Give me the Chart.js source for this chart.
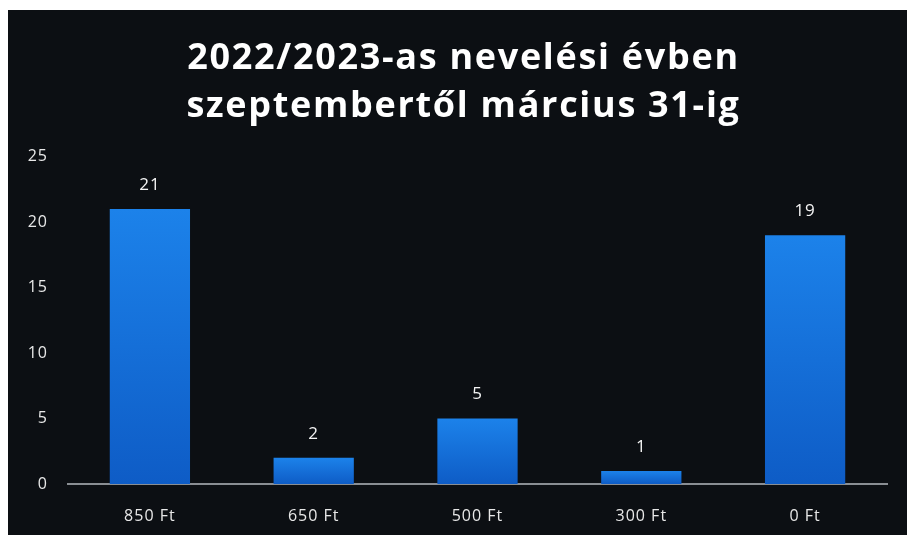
<!DOCTYPE html>
<html>
<head>
<meta charset="utf-8">
<script src="https://cdn.jsdelivr.net/npm/chart.js@4/dist/chart.umd.min.js"></script>
<style>
  html, body { margin: 0; padding: 0; background: #ffffff; width: 907px; height: 535px; overflow: hidden; }
  #wrap { position: absolute; left: 8px; top: 10px; width: 899px; height: 525px; background: #0c0f13; }
  canvas { display: block; }
</style>
</head>
<body>
<div id="wrap"><canvas id="c" width="899" height="525"></canvas></div>
<script>
const titleLines = ["2022/2023-as nevelési évben", "szeptembertől március 31-ig"];
const categories = ["850 Ft", "650 Ft", "500 Ft", "300 Ft", "0 Ft"];
const values = [21, 2, 5, 1, 19];
const yTicks = [0, 5, 10, 15, 20, 25];

const spacing = {
  id: 'spacing',
  beforeDraw(chart) {
    chart.ctx.letterSpacing = '1px';
    const tb = chart.titleBlock;
    if (tb && !tb._wrapped) {
      const orig = tb.draw.bind(tb);
      tb.draw = function () {
        const ctx = chart.ctx;
        const prev = ctx.letterSpacing;
        ctx.save();
        ctx.translate(16, 0);
        ctx.letterSpacing = '1.7px';
        orig();
        ctx.restore();
        ctx.letterSpacing = prev;
      };
      tb._wrapped = true;
    }
  }
};

const valueLabels = {
  id: 'valueLabels',
  afterDatasetsDraw(chart) {
    const ctx = chart.ctx;
    const meta = chart.getDatasetMeta(0);
    ctx.save();
    ctx.letterSpacing = '1px';
    ctx.fillStyle = '#f4f4f4';
    ctx.font = '17px "Open Sans", sans-serif';
    ctx.textAlign = 'center';
    ctx.textBaseline = 'middle';
    meta.data.forEach((bar, i) => {
      ctx.fillText(String(values[i]), bar.x, bar.y - 24);
    });
    ctx.restore();
  }
};

function barGradient(context) {
  const chart = context.chart;
  const area = chart.chartArea;
  if (!area) return '#1670d8';
  const ys = chart.scales.y;
  const v = context.raw;
  const top = ys.getPixelForValue(v);
  const bottom = ys.getPixelForValue(0);
  const g = chart.ctx.createLinearGradient(0, top, 0, bottom);
  g.addColorStop(0, '#1c82ea');
  g.addColorStop(1, '#0e5cc6');
  return g;
}

new Chart(document.getElementById('c'), {
  type: 'bar',
  data: {
    labels: categories,
    datasets: [{
      data: values,
      backgroundColor: barGradient,
      borderWidth: 0,
      categoryPercentage: 1,
      barPercentage: 0.49
    }]
  },
  options: {
    responsive: false,
    animation: false,
    layout: { padding: { left: 0, right: 20, top: 0, bottom: 0 } },
    plugins: {
      legend: { display: false },
      tooltip: { enabled: false },
      title: {
        display: true,
        text: titleLines,
        color: '#ffffff',
        font: { family: '"Open Sans", sans-serif', size: 36, weight: 'bold', lineHeight: 1.33 },
        padding: { top: 25, bottom: 26 }
      }
    },
    scales: {
      x: {
        grid: { display: false, drawTicks: false },
        border: { display: true, color: '#8a8e93', width: 2 },
        ticks: { color: '#e8e8e8', font: { family: '"Open Sans", sans-serif', size: 16 }, padding: 23 },
        afterFit(scale) { scale.height = 51; }
      },
      y: {
        min: 0, max: 25,
        grid: { display: false, drawTicks: false },
        border: { display: false },
        afterBuildTicks(scale) { scale.ticks = yTicks.map(v => ({ value: v })); },
        ticks: { color: '#e8e8e8', font: { family: '"Open Sans", sans-serif', size: 16 }, padding: 20 },
        afterFit(scale) { scale.width = 60; }
      }
    }
  },
  plugins: [spacing, valueLabels]
});
</script>
</body>
</html>
